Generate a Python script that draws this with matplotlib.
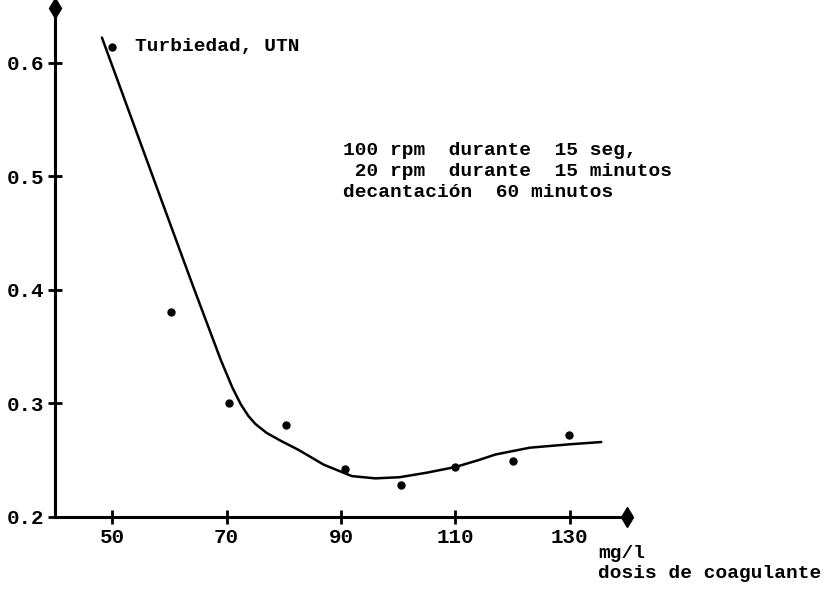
import matplotlib.pyplot as plt

plt.rcParams.update({
    "font.family": ["Liberation Mono", "DejaVu Sans Mono"],
    "font.size": 14,
    "font.weight": "bold",
})

# turbidity readings (UTN) against coagulant dose (mg/l)
dose = [50, 60.2, 70.4, 80.4, 90.7, 100.5, 110, 120, 129.8]
turbidity = [0.614, 0.380, 0.300, 0.281, 0.242, 0.228, 0.244, 0.249, 0.272]

# hand-fitted curve through the readings
curve_x = [48.2, 53, 58.6, 64, 69, 71, 72.5, 73.8, 75, 77, 79.5, 82.6,
           87, 91.9, 96, 100.2, 105, 110, 114, 117, 123, 130, 135.5]
curve_y = [0.622, 0.556, 0.479, 0.405, 0.338, 0.314, 0.299, 0.289,
           0.282, 0.274, 0.267, 0.259, 0.246, 0.236, 0.234, 0.235, 0.239,
           0.244, 0.250, 0.255, 0.261, 0.264, 0.266]

x_ticks = [50, 70, 90, 110, 130]
y_ticks = [0.2, 0.3, 0.4, 0.5, 0.6]

conditions = ["100 rpm  durante  15 seg,",
              " 20 rpm  durante  15 minutos",
              "decantación  60 minutos"]

fig = plt.figure(figsize=(8.39, 5.92), dpi=100)
ax = fig.add_axes([55 / 839, 75 / 592, 572 / 839, 509 / 592])

ax.plot(curve_x, curve_y, color="black", lw=1.8, solid_joinstyle="round",
        solid_capstyle="round")
ax.plot(dose, turbidity, "o", color="black", ms=5)

ax.set_xlim(40, 140)
ax.set_ylim(0.2, 0.648)
ax.set_xticks(x_ticks)
ax.set_yticks(y_ticks)
ax.set_yticklabels([f"{v:.1f}" for v in y_ticks])
ax.tick_params(direction="inout", length=10, width=2, colors="black",
               pad=3, labelsize=15)

for side in ("top", "right"):
    ax.spines[side].set_visible(False)
for side in ("left", "bottom"):
    ax.spines[side].set_linewidth(2.2)

# arrow heads at the end of each axis
ax.plot(1, 0, marker="d", color="black", ms=10, transform=ax.transAxes,
        clip_on=False)
ax.plot(0, 1, marker="d", color="black", ms=10, transform=ax.transAxes,
        clip_on=False)

ax.text(54, turbidity[0], "Turbiedad, UTN", ha="left", va="center",
        fontsize=14)
ax.text(90.3, 0.530, "\n".join(conditions), ha="left", va="top",
        fontsize=14, linespacing=1.3)

fig.text(598 / 839, 1 - 553 / 592, "mg/l", ha="left", va="center",
         fontsize=14)
fig.text(598 / 839, 1 - 574 / 592, "dosis de coagulante", ha="left",
         va="center", fontsize=14)

fig.savefig("out.png", dpi=100, facecolor="white")
